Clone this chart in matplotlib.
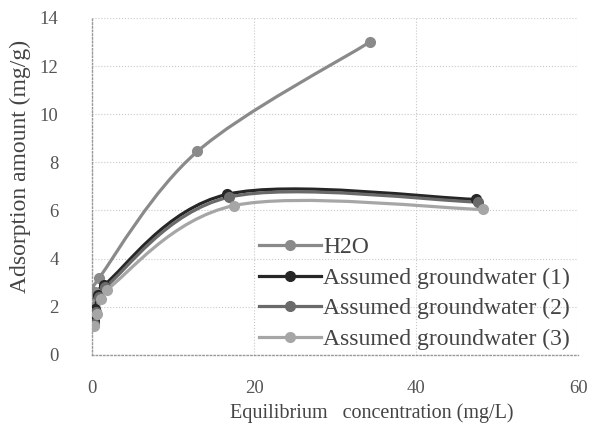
import matplotlib
matplotlib.use('Agg')
import matplotlib.pyplot as plt
from matplotlib.path import Path
from matplotlib.patches import PathPatch
from matplotlib.lines import Line2D
import numpy as np

plt.rcParams['font.family'] = 'Liberation Serif'

# データ
labels = ['H2O', 'Assumed groundwater (1)', 'Assumed groundwater (2)', 'Assumed groundwater (3)']
h2o_x = [0.1, 0.2, 0.4, 0.9, 13.0, 34.3]
h2o_y = [1.3, 1.9, 2.6, 3.2, 8.45, 13.0]
gw1_x = [0.2, 0.4, 0.8, 1.5, 16.7, 47.4]
gw1_y = [1.4, 1.9, 2.5, 2.9, 6.67, 6.46]
gw2_x = [0.2, 0.5, 0.9, 1.6, 16.9, 47.6]
gw2_y = [1.3, 1.8, 2.4, 2.8, 6.55, 6.35]
gw3_x = [0.3, 0.6, 1.1, 1.8, 17.5, 48.3]
gw3_y = [1.2, 1.7, 2.3, 2.7, 6.2, 6.04]
colors = ['#8a8a8a', '#262626', '#6a6a6a', '#a6a6a6']

series = [(h2o_x, h2o_y), (gw1_x, gw1_y), (gw2_x, gw2_y), (gw3_x, gw3_y)]


def smooth_path(xs, ys):
    # Excel風の平滑線 (Catmull-Rom -> ベジェ)
    p = np.column_stack([xs, ys]).astype(float)
    n = len(p)
    verts = [p[0]]
    codes = [Path.MOVETO]
    for i in range(n - 1):
        p0 = p[i - 1] if i > 0 else p[i]
        p3 = p[i + 2] if i + 2 < n else p[i + 1]
        c1 = p[i] + (p[i + 1] - p0) / 6
        c2 = p[i + 1] - (p3 - p[i]) / 6
        verts += [c1, c2, p[i + 1]]
        codes += [Path.CURVE4] * 3
    return Path(verts, codes)


fig = plt.figure(figsize=(6.01, 4.37), dpi=100)
ax = fig.add_axes([0.153, 0.188, 0.809, 0.771])

handles = []
for (xs, ys), c, lab in zip(series, colors, labels):
    ax.add_patch(PathPatch(smooth_path(xs, ys), fill=False, edgecolor=c, lw=2.3, zorder=3))
    ax.plot(xs, ys, 'o', color=c, ms=7, zorder=4)
    handles.append(Line2D([], [], color=c, lw=2.3, marker='o', ms=7))

ax.set_xlim(0, 60)
ax.set_ylim(0, 14)
ax.set_xticks([0, 20, 40, 60])
ax.set_yticks(range(0, 15, 2))
ax.grid(True, color='#c8c8c8', ls=':', lw=0.8)
ax.set_axisbelow(True)
for s in ['top', 'right']:
    ax.spines[s].set_visible(False)
for s in ['left', 'bottom']:
    ax.spines[s].set_color('#999999')
    ax.spines[s].set_linestyle(':')
    ax.spines[s].set_linewidth(1.0)
ax.tick_params(length=0, labelsize=13.5, colors='#555555')
ax.tick_params(axis='y', pad=24)
ax.tick_params(axis='x', pad=18)

ax.set_xlabel('Equilibrium   concentration (mg/L)', fontsize=14.5, color='#444444')
ax.set_ylabel('Adsorption amount (mg/g)', fontsize=17, color='#444444')
ax.xaxis.set_label_coords(0.576, -0.145)
ax.yaxis.set_label_coords(-0.125, 0.56)

leg = ax.legend(handles, labels, loc='lower left', bbox_to_anchor=(0.344, 0.015), frameon=False,
                fontsize=17, handlelength=2.6, handletextpad=0.1, labelspacing=0.38,
                borderpad=0, borderaxespad=0)
for t in leg.get_texts():
    t.set_color('#444444')

plt.savefig('out.png', dpi=100)
